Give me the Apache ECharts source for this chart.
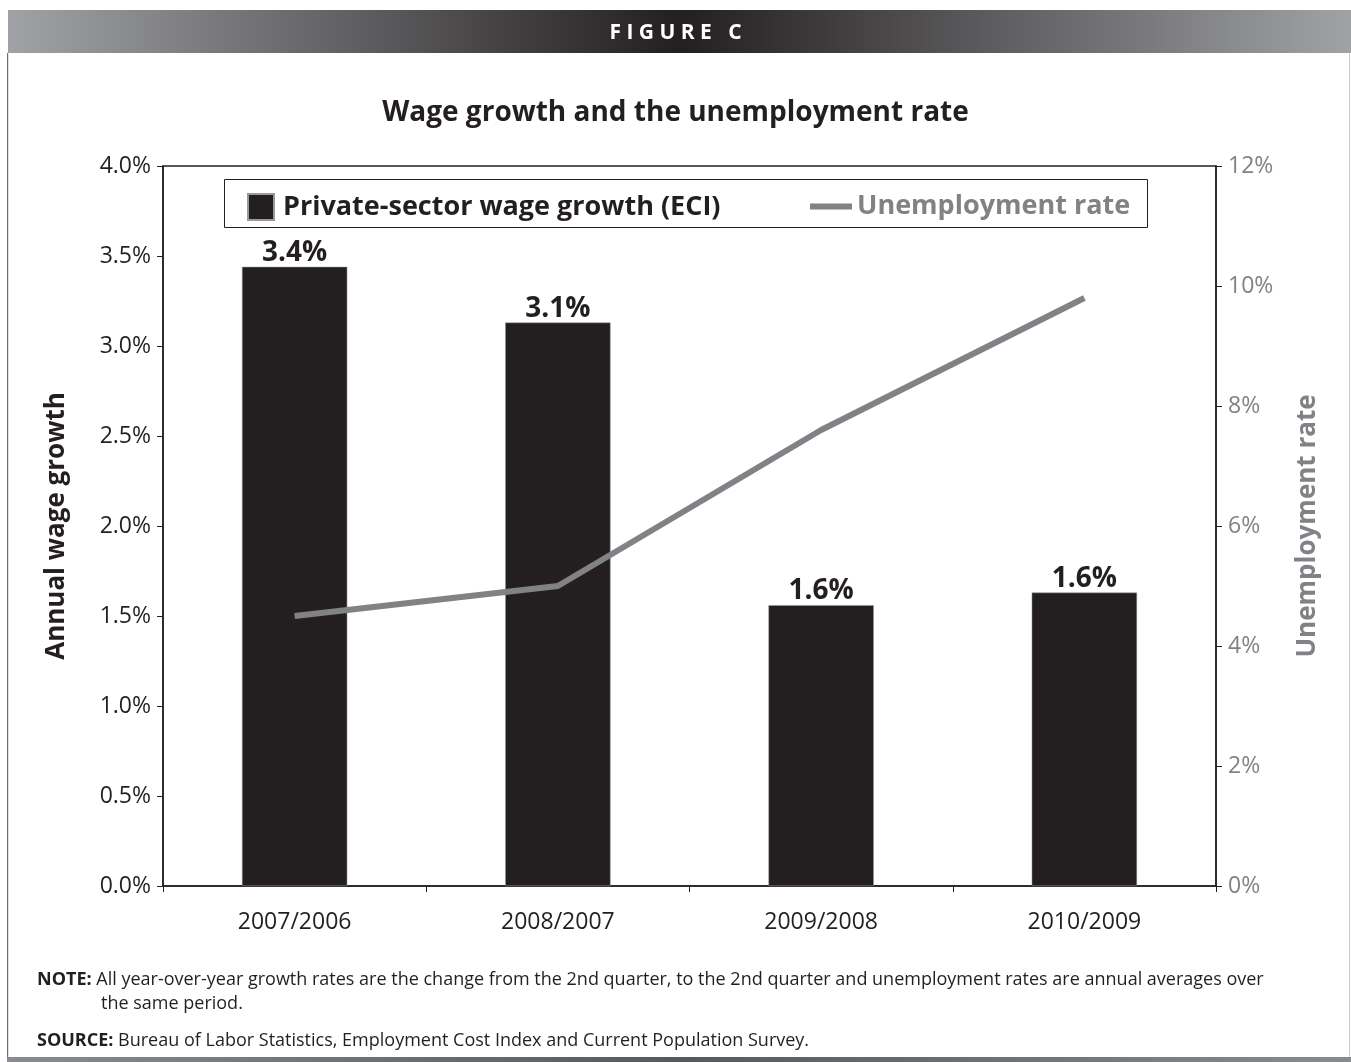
<!DOCTYPE html>
<html>
<head>
<meta charset="utf-8">
<style>
  html, body { margin: 0; padding: 0; background: #fff; }
  #chart { width: 1351px; height: 1062px; }
</style>
<script src="https://cdn.jsdelivr.net/npm/echarts@6/dist/echarts.min.js"></script>
</head>
<body>
<div id="chart"></div>
<script>
// Year-over-year periods (2nd quarter to 2nd quarter)
const periods = ['2007/2006', '2008/2007', '2009/2008', '2010/2009'];
// Private-sector wage growth, ECI (%)
const wageGrowth = [3.44, 3.13, 1.56, 1.63];
// Unemployment rate, annual average over the same period (%)
const unemployment = [4.5, 5.0, 7.6, 9.8];

const FONT = '"Open Sans", "Noto Sans", sans-serif';
const DARK = '#231f20';
const GREY = '#808285';

const chart = echarts.init(document.getElementById('chart'), null, { renderer: 'canvas' });

chart.setOption({
  backgroundColor: '#ffffff',
  animation: false,
  textStyle: { fontFamily: FONT },
  title: {
    text: 'Wage growth and the unemployment rate',
    left: 'center',
    top: 94,
    textStyle: { fontFamily: FONT, fontSize: 28, fontWeight: 'bold', color: DARK }
  },
  legend: [
    {
      data: [{ name: 'Private-sector wage growth (ECI)', icon: 'rect' }],
      left: 242, top: 188,
      itemWidth: 26, itemHeight: 26, itemGap: 0,
      textStyle: { fontFamily: FONT, fontSize: 27, fontWeight: 'bold', color: DARK, padding: [0, 0, 0, 4] }
    },
    {
      data: [{ name: 'Unemployment rate', icon: 'rect' }],
      left: 805, top: 188,
      itemWidth: 42, itemHeight: 6, itemGap: 0,
      itemStyle: { color: GREY },
      textStyle: { fontFamily: FONT, fontSize: 27, fontWeight: 'bold', color: GREY, padding: [0, 0, 0, 0] }
    }
  ],
  grid: {
    left: 163, right: 135, top: 166, bottom: 176,
    show: true, borderColor: DARK, borderWidth: 1.5
  },
  xAxis: {
    type: 'category',
    data: periods,
    axisLine: { lineStyle: { color: DARK, width: 1.5 } },
    axisTick: { show: true, length: 6, lineStyle: { color: DARK, width: 1 } },
    axisLabel: { fontFamily: FONT, fontSize: 23, color: DARK, margin: 25 }
  },
  yAxis: [
    {
      type: 'value', min: 0, max: 4, interval: 0.5, position: 'left',
      name: 'Annual wage growth', nameLocation: 'middle', nameGap: 93,
      nameTextStyle: { fontFamily: FONT, fontSize: 26, fontWeight: 'bold', color: DARK },
      axisLine: { show: true, lineStyle: { color: DARK, width: 1.5 } },
      axisTick: { show: true, length: 6, lineStyle: { color: DARK, width: 1 } },
      axisLabel: { fontFamily: FONT, fontSize: 23, color: DARK, margin: 12, formatter: v => v.toFixed(1) + '%' },
      splitLine: { show: false }
    },
    {
      type: 'value', min: 0, max: 12, interval: 2, position: 'right',
      name: 'Unemployment rate', nameLocation: 'middle', nameGap: 79,
      nameTextStyle: { fontFamily: FONT, fontSize: 26, fontWeight: 'bold', color: GREY },
      axisLine: { show: true, lineStyle: { color: DARK, width: 1.5 } },
      axisTick: { show: true, length: 6, lineStyle: { color: DARK, width: 1 } },
      axisLabel: { fontFamily: FONT, fontSize: 23, color: GREY, margin: 12, formatter: v => v + '%' },
      splitLine: { show: false }
    }
  ],
  series: [
    {
      name: 'Private-sector wage growth (ECI)',
      type: 'bar',
      data: wageGrowth,
      barWidth: '40%',
      itemStyle: { color: DARK, borderColor: '#9a9a9a', borderWidth: 0.5 },
      label: {
        show: true, position: 'top', distance: 0,
        fontFamily: FONT, fontSize: 28, fontWeight: 'bold', color: DARK,
        formatter: p => p.value.toFixed(1) + '%'
      }
    },
    {
      name: 'Unemployment rate',
      type: 'line',
      yAxisIndex: 1,
      data: unemployment,
      symbol: 'none',
      lineStyle: { color: GREY, width: 6 },
      itemStyle: { color: GREY },
      z: 3
    }
  ],
  graphic: [
    {
      type: 'rect', left: 8, top: 10, z: 0,
      shape: { width: 1343, height: 43 },
      style: {
        fill: new echarts.graphic.LinearGradient(0, 0, 1, 0, [
          { offset: 0, color: '#a0a2a5' },
          { offset: 0.5, color: '#231f20' },
          { offset: 1, color: '#a0a2a5' }
        ])
      }
    },
    {
      type: 'text', left: 'center', top: 23, z: 1,
      style: { text: 'F I G U R E   C', fill: '#ffffff', font: 'bold 21px ' + FONT }
    },
    // frame around the figure
    { type: 'rect', left: 7, top: 53, shape: { width: 1.2, height: 1005 }, style: { fill: '#6d6e71' } },
    { type: 'rect', left: 1349, top: 53, shape: { width: 1, height: 1005 }, style: { fill: '#c8c9cb' } },
    {
      type: 'rect', left: 7, top: 1057, shape: { width: 1344, height: 5 },
      style: {
        fill: new echarts.graphic.LinearGradient(0, 0, 1, 0, [
          { offset: 0, color: '#8a8b8e' },
          { offset: 0.5, color: '#58595b' },
          { offset: 1, color: '#8a8b8e' }
        ])
      }
    },
    // legend box
    {
      type: 'rect', left: 222, top: 177,
      shape: { width: 923, height: 48 },
      style: { fill: 'none', stroke: DARK, lineWidth: 1 }
    },
    // notes
    {
      type: 'text', left: 37, top: 971,
      style: {
        text: '{b|NOTE:} All year-over-year growth rates are the change from the 2nd quarter, to the 2nd quarter and unemployment rates are annual averages over',
        font: '18px ' + FONT, fill: DARK,
        rich: { b: { fontFamily: FONT, fontSize: 18, fontWeight: 'bold', fill: DARK } }
      }
    },
    {
      type: 'text', left: 101, top: 995,
      style: { text: 'the same period.', font: '18px ' + FONT, fill: DARK }
    },
    {
      type: 'text', left: 37, top: 1032,
      style: {
        text: '{b|SOURCE:} Bureau of Labor Statistics, Employment Cost Index and Current Population Survey.',
        font: '18px ' + FONT, fill: DARK,
        rich: { b: { fontFamily: FONT, fontSize: 18, fontWeight: 'bold', fill: DARK } }
      }
    }
  ]
});
</script>
</body>
</html>
